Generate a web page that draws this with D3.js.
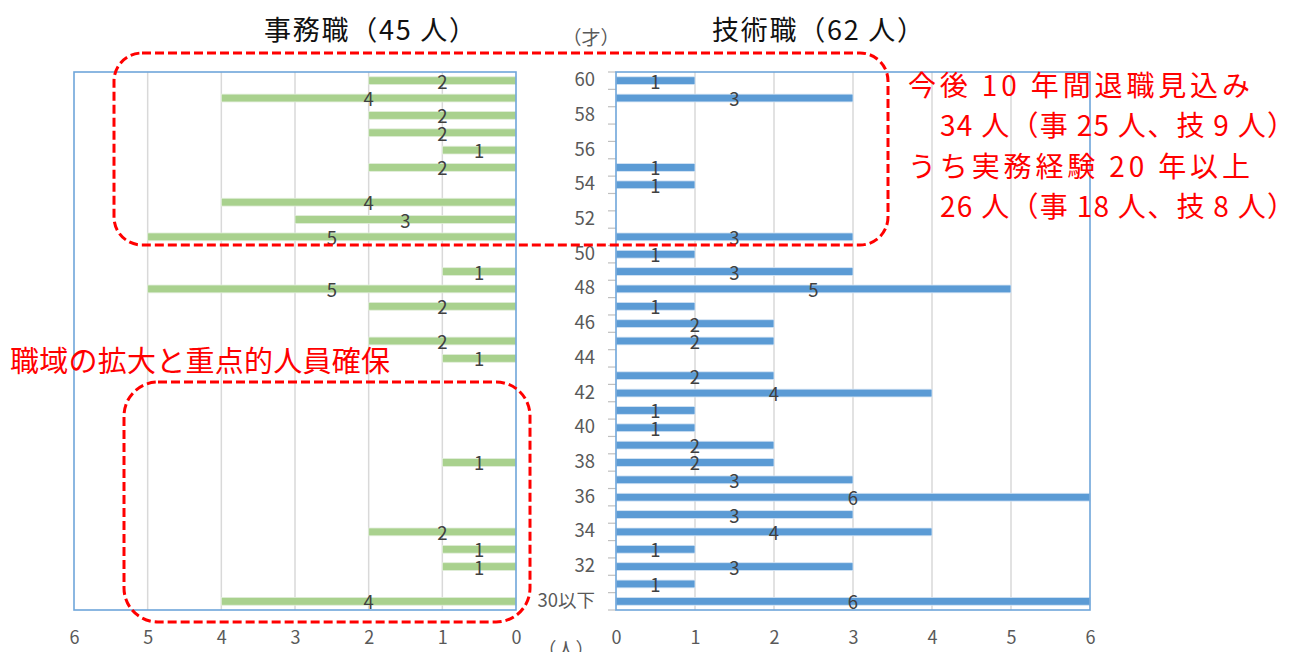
<!DOCTYPE html>
<html lang="ja">
<head>
<meta charset="utf-8">
<title>年齢別職員構成</title>
<script src="https://cdn.jsdelivr.net/npm/d3@7"></script>
<style>
  html, body { margin: 0; padding: 0; background: #fff; }
  svg { display: block; font-family: "Noto Sans CJK JP", "Noto Sans", sans-serif; }
</style>
</head>
<body>
<svg id="chart" width="1298" height="652"></svg>
<script>
// 年齢区分（下から上へ）
const ages = ["30以下", "31", "32", "33", "34", "35", "36", "37", "38", "39",
  "40", "41", "42", "43", "44", "45", "46", "47", "48", "49",
  "50", "51", "52", "53", "54", "55", "56", "57", "58", "59", "60"];
const ageTickLabels = ["30以下", "32", "34", "36", "38", "40", "42", "44", "46",
  "48", "50", "52", "54", "56", "58", "60"];

// 事務職（45人）の年齢別人数
const clericalCounts = [4, 0, 1, 1, 2, 0, 0, 0, 1, 0,
  0, 0, 0, 0, 1, 2, 0, 2, 5, 1,
  0, 5, 3, 4, 0, 2, 1, 2, 2, 4, 2];
// 技術職（62人）の年齢別人数
const technicalCounts = [6, 1, 3, 1, 4, 3, 6, 3, 2, 2,
  1, 1, 4, 2, 0, 2, 2, 1, 5, 3,
  1, 3, 0, 0, 1, 1, 0, 0, 0, 3, 1];

const countTicks = [0, 1, 2, 3, 4, 5, 6];

const titles = ["事務職（45 人）", "技術職（62 人）"];
const noteLines = ["今後 10 年間退職見込み", "34 人（事 25 人、技 9 人）",
  "うち実務経験 20 年以上", "26 人（事 18 人、技 8 人）"];
const focusNote = "職域の拡大と重点的人員確保";

const svg = d3.select("#chart");

const plotTop = 72, plotBottom = 610;
const y = d3.scaleBand().domain(ages.slice().reverse()).range([plotTop, plotBottom]);
const xL = d3.scaleLinear().domain([0, 6]).range([516, 74]);
const xR = d3.scaleLinear().domain([0, 6]).range([616, 1090]);

const green = "#A9D18E", blue = "#5B9BD5";
const gridColor = "#d9d9d9", frameColor = "#6FA6DA";
const barH = 7.8;

// 目盛り線
function grid(x) {
  svg.append("g").selectAll("line")
    .data(countTicks.filter(d => d > 0 && d < 6))
    .join("line")
    .attr("x1", d => x(d)).attr("x2", d => x(d))
    .attr("y1", plotTop).attr("y2", plotBottom)
    .attr("stroke", gridColor).attr("stroke-width", 1.5);
}
grid(xL);
grid(xR);

// 右パネルの年齢軸目盛り（区分境界）
const bounds = ages.map(a => y(a)).concat([plotBottom]);
svg.append("g").selectAll("line").data(bounds).join("line")
  .attr("x1", 608).attr("x2", 616)
  .attr("y1", d => d).attr("y2", d => d)
  .attr("stroke", "#bfbfbf").attr("stroke-width", 1.2);

// 棒グラフ
const rows = ages.map((a, i) => ({ age: a, c: clericalCounts[i], t: technicalCounts[i] }));

svg.append("g").selectAll("rect").data(rows.filter(d => d.c > 0)).join("rect")
  .attr("x", d => xL(d.c)).attr("width", d => xL(0) - xL(d.c))
  .attr("y", d => y(d.age) + y.bandwidth() / 2 - barH / 2).attr("height", barH)
  .attr("fill", green).attr("stroke", "#e2eedb").attr("stroke-width", 0.8);

svg.append("g").selectAll("rect").data(rows.filter(d => d.t > 0)).join("rect")
  .attr("x", xR(0)).attr("width", d => xR(d.t) - xR(0))
  .attr("y", d => y(d.age) + y.bandwidth() / 2 - barH / 2).attr("height", barH)
  .attr("fill", blue).attr("stroke", "#d6e5f4").attr("stroke-width", 0.8);

// 枠
svg.append("rect").attr("x", xL(6)).attr("y", plotTop)
  .attr("width", xL(0) - xL(6)).attr("height", plotBottom - plotTop)
  .attr("fill", "none").attr("stroke", frameColor).attr("stroke-width", 1.6);
svg.append("rect").attr("x", xR(0)).attr("y", plotTop)
  .attr("width", xR(6) - xR(0)).attr("height", plotBottom - plotTop)
  .attr("fill", "none").attr("stroke", frameColor).attr("stroke-width", 1.6);

// データラベル
const labelStyle = sel => sel.attr("font-size", 18.5).attr("fill", "#404040")
  .attr("text-anchor", "middle");
svg.append("g").selectAll("text").data(rows.filter(d => d.c > 0)).join("text")
  .call(labelStyle)
  .attr("x", d => xL(d.c / 2))
  .attr("y", d => y(d.age) + y.bandwidth() / 2 + 8)
  .text(d => d.c);
svg.append("g").selectAll("text").data(rows.filter(d => d.t > 0)).join("text")
  .call(labelStyle)
  .attr("x", d => xR(d.t / 2))
  .attr("y", d => y(d.age) + y.bandwidth() / 2 + 8)
  .text(d => d.t);

// 横軸
function xAxis(x) {
  const g = svg.append("g").attr("transform", `translate(0,${plotBottom})`)
    .call(d3.axisBottom(x).tickValues(countTicks).tickSize(0).tickPadding(21).tickFormat(d3.format("d")));
  g.select(".domain").remove();
  g.selectAll("text").attr("font-size", 18).attr("fill", "#595959")
    .style("font-family", "\"Noto Sans CJK JP\", sans-serif");
}
xAxis(xL);
xAxis(xR);

// 年齢軸
const ya = svg.append("g").attr("transform", `translate(${xR(0)},0)`)
  .call(d3.axisLeft(y).tickValues(ageTickLabels).tickSize(0).tickPadding(21));
ya.select(".domain").remove();
ya.selectAll("text").attr("font-size", 18.5).attr("fill", "#595959")
  .attr("dy", "0.3em")
  .style("font-family", "\"Noto Sans CJK JP\", sans-serif");

// 単位
svg.append("text").attr("x", 591).attr("y", 45).attr("text-anchor", "middle")
  .attr("font-size", 19).attr("fill", "#595959").text("（才）");
svg.append("text").attr("x", 566).attr("y", 657).attr("text-anchor", "middle")
  .attr("font-size", 19).attr("fill", "#595959").text("（人）");

// 見出し
svg.append("text").attr("x", 264).attr("y", 40).attr("font-size", 27)
  .attr("fill", "#111").attr("textLength", 212).attr("lengthAdjust", "spacing")
  .text(titles[0]);
svg.append("text").attr("x", 712).attr("y", 40).attr("font-size", 27)
  .attr("fill", "#111").attr("textLength", 212).attr("lengthAdjust", "spacing")
  .text(titles[1]);

// 注記の囲み
const red = "#FF0000";
svg.append("rect").attr("x", 114).attr("y", 53).attr("width", 774).attr("height", 192)
  .attr("rx", 28).attr("ry", 28)
  .attr("fill", "none").attr("stroke", red).attr("stroke-width", 3)
  .attr("stroke-dasharray", "9,4");
svg.append("rect").attr("x", 124).attr("y", 382).attr("width", 406).attr("height", 240)
  .attr("rx", 34).attr("ry", 34)
  .attr("fill", "none").attr("stroke", red).attr("stroke-width", 3)
  .attr("stroke-dasharray", "9,4");

// 注記テキスト
const noteX = [908, 940, 908, 940];
const noteY = [96, 136, 177, 217];
const noteLen = [342, 355, 342, 355];
svg.append("g").selectAll("text").data(noteLines).join("text")
  .attr("x", (d, i) => noteX[i]).attr("y", (d, i) => noteY[i])
  .attr("font-size", 28).attr("fill", red)
  .attr("textLength", (d, i) => noteLen[i]).attr("lengthAdjust", "spacing")
  .text(d => d);

svg.append("text").attr("x", 10).attr("y", 372).attr("font-size", 29)
  .attr("fill", red).attr("textLength", 380).attr("lengthAdjust", "spacing")
  .text(focusNote);
</script>
</body>
</html>
